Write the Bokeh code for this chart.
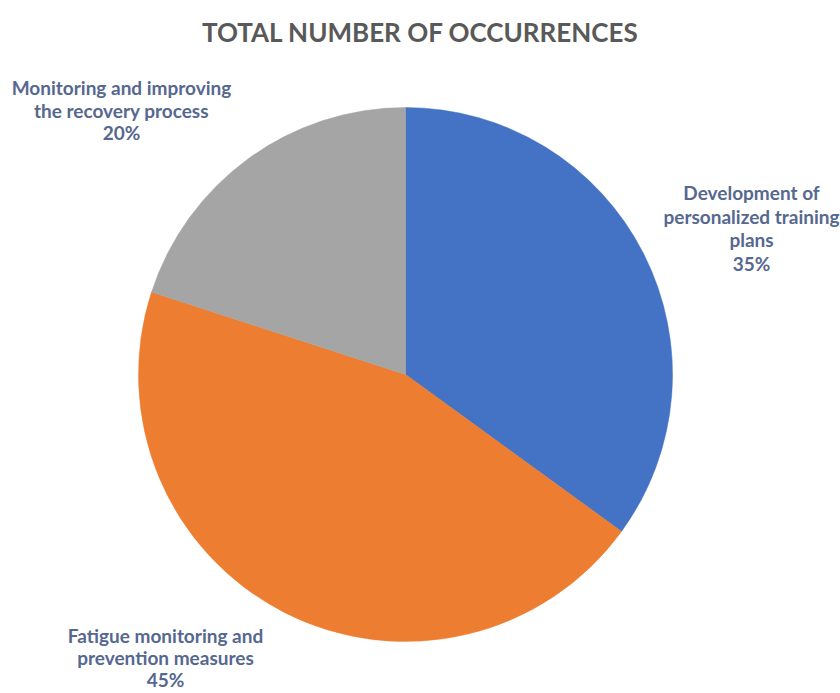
import math
from bokeh.plotting import figure
from bokeh.models import Range1d, ColumnDataSource
from bokeh.core.properties import value
from bokeh.embed import file_html
from bokeh.resources import INLINE

# ---- data ----
categories = [
    "Development of personalized training plans",
    "Fatigue monitoring and prevention measures",
    "Monitoring and improving the recovery process",
]
shares = [35, 45, 20]
slice_colors = ["#4472C4", "#ED7D31", "#A5A5A5"]
label_lines = [
    ["Development of", "personalized training", "plans"],
    ["Fatigue monitoring and", "prevention measures"],
    ["Monitoring and improving", "the recovery process"],
]
chart_title = "TOTAL NUMBER OF OCCURRENCES"

# ---- layout (pixels) ----
W, H = 840, 693
CX, CY, R = 405, 374, 267
label_anchor = [(751, 192, 23.5), (165, 635, 22.0), (121, 87, 22.5)]
LABEL_COLOR = "#56688f"
FONT = "Lato"

total = float(sum(shares))
starts, ends = [], []
cum = 0.0
for s in shares:
    starts.append(math.pi / 2 - 2 * math.pi * cum / total)
    cum += s
    ends.append(math.pi / 2 - 2 * math.pi * cum / total)

src = ColumnDataSource(dict(
    x=[CX] * len(shares), y=[H - CY] * len(shares),
    start=starts, end=ends, color=slice_colors, cat=categories,
))

p = figure(width=W, height=H, x_range=Range1d(0, W), y_range=Range1d(0, H),
           output_backend="svg", toolbar_location=None, min_border=0,
           x_axis_location=None, y_axis_location=None,
           outline_line_color=None, background_fill_color="white",
           border_fill_color="white")
p.grid.visible = False

p.wedge(x="x", y="y", radius=R, start_angle="start", end_angle="end",
        direction="clock", fill_color="color", line_color="color",
        line_width=0.5, source=src)

# labels
tx, ty, tt = [], [], []
for i, lines in enumerate(label_lines):
    ax, ay, sp = label_anchor[i]
    all_lines = lines + ["%d%%" % shares[i]]
    for j, ln in enumerate(all_lines):
        tx.append(ax)
        ty.append(H - (ay + j * sp))
        tt.append(ln)
p.text(x=tx, y=ty, text=tt, text_font=value(FONT), text_font_style="bold",
       text_font_size="19px", text_color=LABEL_COLOR,
       text_align="center", text_baseline="middle")

# title
p.text(x=[420], y=[H - 31], text=[chart_title], text_font=value(FONT),
       text_font_style="bold", text_font_size="26px", text_color="#595959",
       text_align="center", text_baseline="middle")

open("out.html", "w").write(file_html(p, INLINE))
